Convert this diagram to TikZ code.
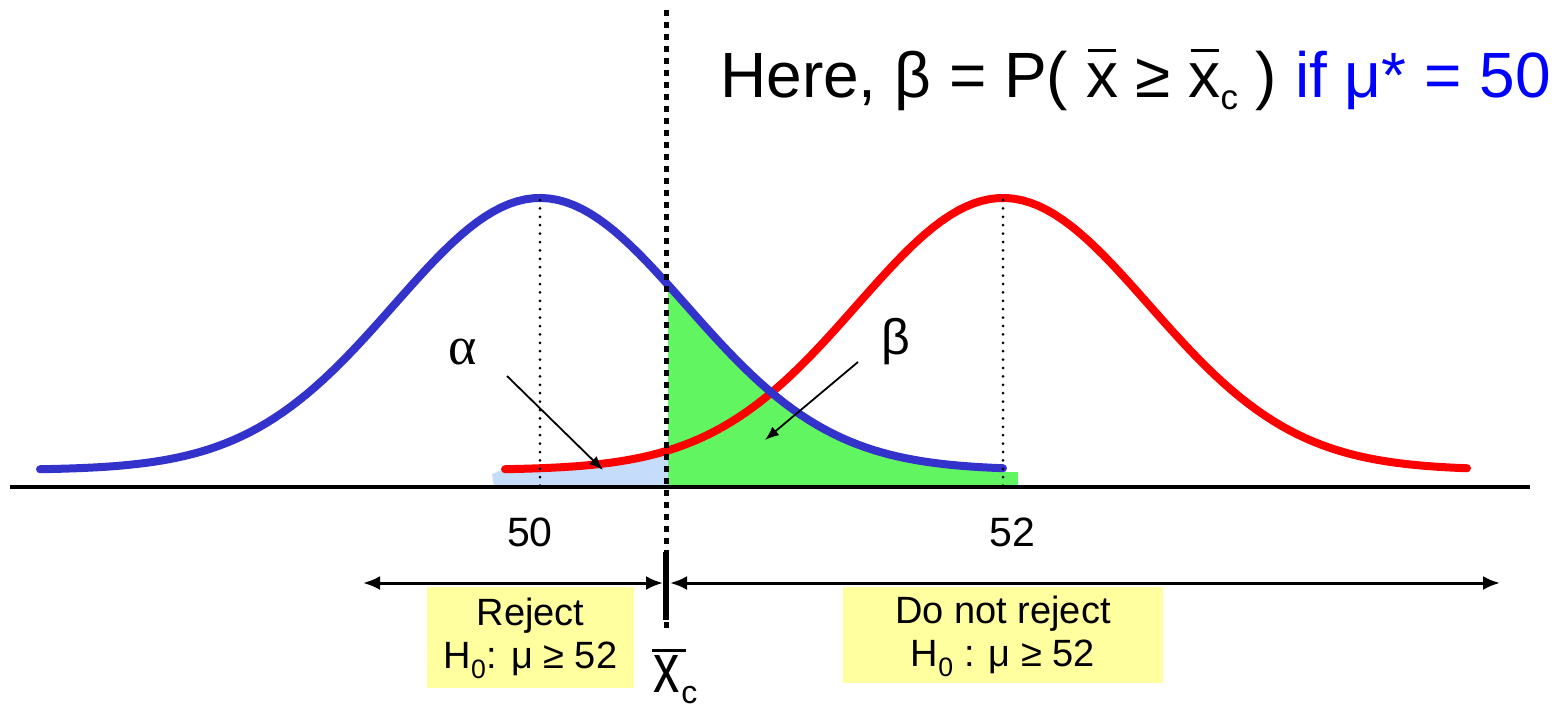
\documentclass[tikz,border=0pt]{standalone}
\usepackage{fontspec}
\setmainfont{Liberation Sans}
\newfontfamily\serifgr{Liberation Serif}
\usetikzlibrary{arrows.meta}
\definecolor{cblue}{HTML}{3333CC}
\definecolor{cgreen}{HTML}{62F562}
\definecolor{clight}{HTML}{C5DCFA}
\definecolor{cyel}{HTML}{FFFFA0}
\definecolor{tblue}{HTML}{0000FF}
\newcommand{\xbar}{\makebox[0pt][l]{\hspace{0.03em}\rule[0.7em]{0.44em}{0.05em}}x}
\begin{document}
\begin{tikzpicture}[x=1pt,y=-1pt,
  declare function={gb(\t)=470-272*exp(-0.5*((\t-540)/146)^2); gr(\t)=470-272*exp(-0.5*((\t-1003)/146)^2);},
  curve/.style={line width=8pt, line cap=round, line join=round},
  thindots/.style={line width=3pt, dash pattern=on 0pt off 8.4pt, line cap=round},
  ybox/.style={fill=cyel, inner sep=0pt, align=center, font=\fontsize{38}{43}\selectfont},
  lbl/.style={font=\fontsize{41}{41}\selectfont, inner sep=0pt},
  pointer/.style={line width=1.8pt, -{Latex[length=14pt,width=11pt]}},
  span/.style={line width=3pt, {Latex[length=17pt,width=14pt]}-{Latex[length=17pt,width=14pt]}}
]
\useasboundingbox (0,0) rectangle (1561,713);
% shaded areas
\fill[clight] (494,487) -- (492,474) -- plot[domain=505:668,samples=40] (\x,{gr(\x)}) -- (668,487) -- cycle;
\fill[cgreen] (668,487) -- plot[domain=668:1003,samples=60] (\x,{gb(\x)}) -- (1003,472) -- (1018,472) -- (1018,487) -- cycle;
% axis
\draw[line width=4pt] (10,487) -- (1530,487);
% curves
\draw[curve,red] plot[domain=505:1467,samples=120] (\x,{gr(\x)});
\draw[curve,cblue] plot[domain=40:1003,samples=120] (\x,{gb(\x)});
% mean lines
\draw[thindots] (540,200) -- (540,487);
\draw[thindots] (1003,200) -- (1003,487);
% boxes
\node[ybox, minimum width=207pt, minimum height=101pt] (rej) at (530.5,637.5) {\rule{0pt}{30pt}Reject\\H\textsubscript{0}: μ ≥ 52};
\node[ybox, minimum width=320pt, minimum height=96pt] (dnr) at (1003,635) {\rule{0pt}{30pt}Do not reject\\H\textsubscript{0} : μ ≥ 52};
% critical line
\draw[line width=5pt, dash pattern=on 6pt off 6pt] (666,10) -- (666,630);
\draw[line width=6pt] (666,552) -- (666,620);
% spans
\coordinate (la) at (363,583);
\coordinate (lb) at (663,583);
\coordinate (ra) at (670,583);
\coordinate (rb) at (1500,583);
\draw[span] (la) -- (lb);
\draw[span] (ra) -- (rb);
% labels
\node[lbl] (n50) at (530,532) {50};
\node[lbl] (n52) at (1012,532) {52};
\node[font=\serifgr\fontsize{54}{54}\selectfont, inner sep=0pt] (alpha) at (463,352) {α};
\node[font=\fontsize{50}{50}\selectfont, inner sep=0pt] (beta) at (896,342) {β};
\coordinate (a1) at (507,376);
\coordinate (a2) at (603,470);
\coordinate (b1) at (858,362);
\coordinate (b2) at (765,440);
\draw[pointer] (a1) -- (a2);
\draw[pointer] (b1) -- (b2);
% title
\node[anchor=base west, inner sep=0pt, font=\fontsize{64}{64}\selectfont] (title) at (720,97)
  {Here, β = P( \xbar{} ≥ \xbar\raisebox{-0.2em}{\fontsize{35}{35}\selectfont c} ) \textcolor{tblue}{if μ* = 50}};
% critical value label
\node[anchor=base west, inner sep=0pt] (xc) at (653,692)
  {\makebox[0pt][l]{\hspace{-1pt}\rule[40pt]{34pt}{3pt}}\scalebox{0.75}[1]{\fontsize{70}{70}\selectfont x}\hspace{2pt}\raisebox{-11pt}{\fontsize{32}{32}\selectfont c}};
\end{tikzpicture}
\end{document}
